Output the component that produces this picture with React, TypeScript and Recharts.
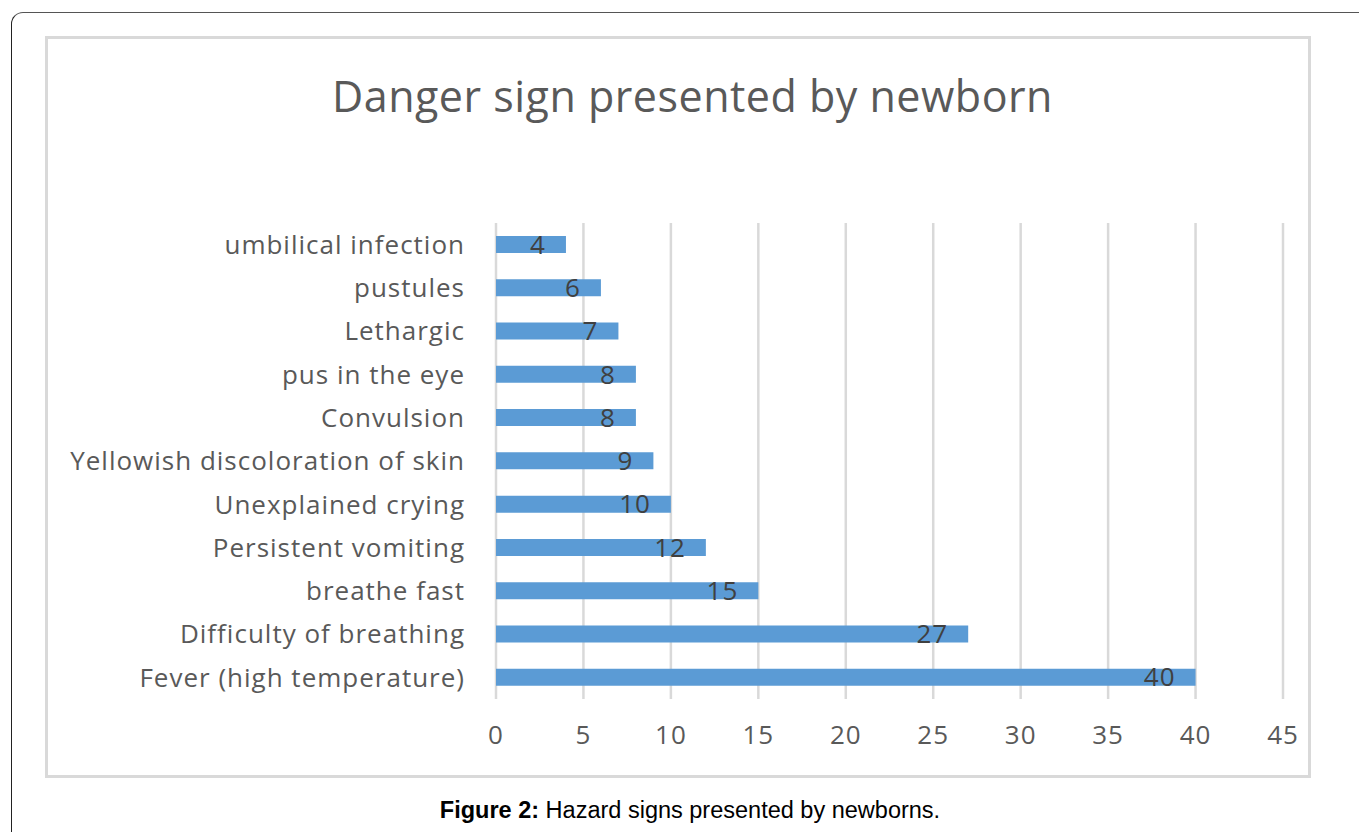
import React from 'react';
import { BarChart, Bar, XAxis, YAxis, CartesianGrid, LabelList } from 'recharts';

const signs = [
  'umbilical infection',
  'pustules',
  'Lethargic',
  'pus in the eye',
  'Convulsion',
  'Yellowish discoloration of skin',
  'Unexplained crying',
  'Persistent vomiting',
  'breathe fast',
  'Difficulty of breathing',
  'Fever (high temperature)',
];

const counts = [4, 6, 7, 8, 8, 9, 10, 12, 15, 27, 40];

const xTicks = [0, 5, 10, 15, 20, 25, 30, 35, 40, 45];

const data = signs.map((name, i) => ({ name, value: counts[i] }));

const font = '"Open Sans", "Noto Sans", sans-serif';

export default function App() {
  return (
    <div style={{ position: 'absolute', left: 0, top: 0, width: 1359, height: 832, overflow: 'hidden', background: '#fff' }}>
      {/* outer figure frame */}
      <div
        style={{
          position: 'absolute',
          left: 11,
          top: 12,
          width: 1400,
          height: 900,
          border: '1.5px solid #222',
          borderTopColor: '#555',
          borderTopLeftRadius: 12,
          boxSizing: 'border-box',
        }}
      />
      {/* chart box */}
      <div
        style={{
          position: 'absolute',
          left: 45,
          top: 36,
          width: 1266,
          height: 742,
          border: '3px solid #d9d9d9',
          boxSizing: 'border-box',
        }}
      />
      <div
        style={{
          position: 'absolute',
          left: 0,
          width: 1385,
          top: 69,
          textAlign: 'center',
          fontFamily: font,
          fontSize: 43,
          letterSpacing: 0.5,
          color: '#595959',
          lineHeight: '54px',
        }}
      >
        Danger sign presented by newborn
      </div>
      <div style={{ position: 'absolute', left: 0, top: 0 }}>
        <BarChart
          width={1359}
          height={832}
          data={data}
          layout="vertical"
          margin={{ top: 223, right: 76, left: 0, bottom: 73 }}
          barCategoryGap={0}
        >
          <CartesianGrid horizontal={false} stroke="#d9d9d9" strokeWidth={2.5} />
          <XAxis
            type="number"
            domain={[0, 45]}
            ticks={xTicks}
            axisLine={false}
            tickLine={false}
            tickSize={0}
            tickMargin={27}
            height={60}
            tick={{ fill: '#595959', fontSize: 26, fontFamily: font, letterSpacing: 1 }}
          />
          <YAxis
            type="category"
            dataKey="name"
            width={496}
            axisLine={false}
            tickLine={false}
            tickSize={0}
            tickMargin={31}
            interval={0}
            tick={{ fill: '#595959', fontSize: 26, fontFamily: font, letterSpacing: 1 }}
          />
          <Bar dataKey="value" fill="#5b9bd5" barSize={17} isAnimationActive={false}>
            <LabelList
              dataKey="value"
              position="insideRight"
              offset={20}
              fill="#404040"
              fontSize={26}
              fontFamily={font}
              letterSpacing={1}
            />
          </Bar>
        </BarChart>
      </div>
      <div
        style={{
          position: 'absolute',
          left: 0,
          width: 1380,
          top: 797,
          textAlign: 'center',
          fontFamily: '"Liberation Sans", Arial, sans-serif',
          fontSize: 23.5,
          color: '#000',
        }}
      >
        <b>Figure 2:</b> Hazard signs presented by newborns.
      </div>
    </div>
  );
}
